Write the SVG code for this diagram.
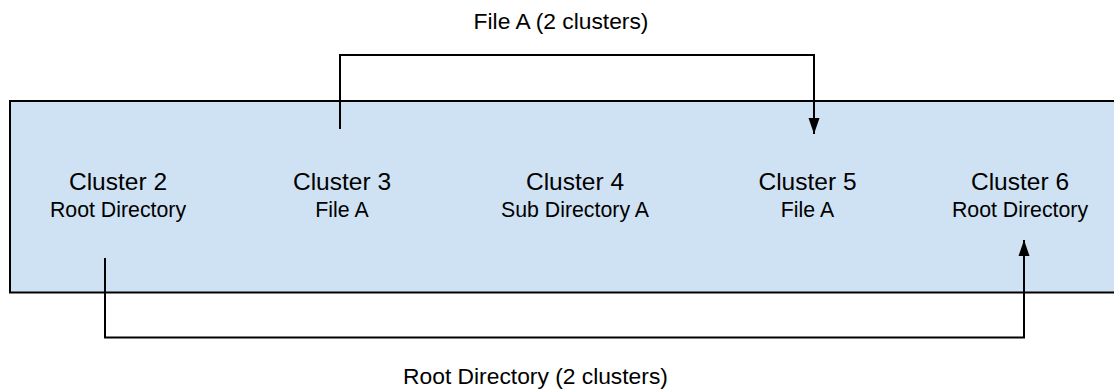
<svg xmlns="http://www.w3.org/2000/svg" width="1114" height="392" viewBox="0 0 1114 392">
  <defs>
    <style>
      .box { fill: #cfe2f3; stroke: #000; stroke-width: 2; }
      .conn { fill: none; stroke: #000; stroke-width: 2; }
      text { font-family: "Liberation Sans", Arial, sans-serif; fill: #000; text-anchor: middle; }
      .title { font-size: 24.5px; }
      .sub { font-size: 21.3px; }
      .lbl { font-size: 22.8px; }
    </style>
    <marker id="arrow" markerUnits="userSpaceOnUse" markerWidth="16" markerHeight="12" refX="16" refY="6" orient="auto">
      <path d="M0,0.5 L16,6 L0,11.5 Z" fill="#000"/>
    </marker>
  </defs>
  <rect width="1114" height="392" fill="#fff"/>
  <g id="disk">
    <rect class="box" x="10" y="101" width="1112" height="191.5"/>
  </g>
  <g id="cluster2">
    <text class="title" x="118" y="190">Cluster 2</text>
    <text class="sub" x="118" y="216.5">Root Directory</text>
  </g>
  <g id="cluster3">
    <text class="title" x="342" y="190">Cluster 3</text>
    <text class="sub" x="342" y="216.5">File A</text>
  </g>
  <g id="cluster4">
    <text class="title" x="575" y="190">Cluster 4</text>
    <text class="sub" x="575" y="216.5">Sub Directory A</text>
  </g>
  <g id="cluster5">
    <text class="title" x="807.5" y="190">Cluster 5</text>
    <text class="sub" x="807.5" y="216.5">File A</text>
  </g>
  <g id="cluster6">
    <text class="title" x="1020" y="190">Cluster 6</text>
    <text class="sub" x="1020" y="216.5">Root Directory</text>
  </g>
  <g id="connectors">
    <path class="conn" d="M340,129 V55 H814 V134" marker-end="url(#arrow)"/>
    <path class="conn" d="M105,258 V337.5 H1024 V240" marker-end="url(#arrow)"/>
    <text class="lbl" x="561" y="29">File A (2 clusters)</text>
    <text class="lbl" x="535.5" y="384">Root Directory (2 clusters)</text>
  </g>
</svg>
